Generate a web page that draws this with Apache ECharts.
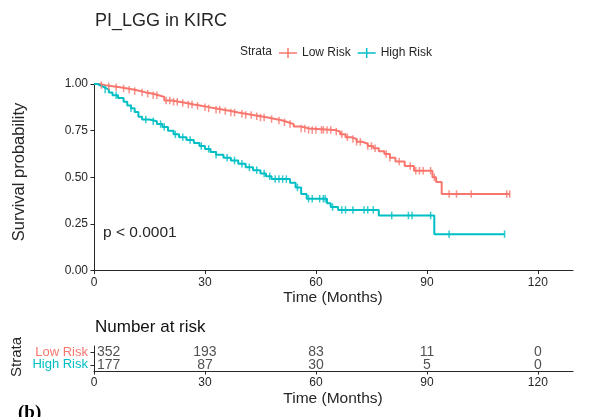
<!DOCTYPE html>
<html>
<head>
<meta charset="utf-8">
<script src="https://cdn.jsdelivr.net/npm/echarts@6/dist/echarts.min.js"></script>
<style>
  html, body { margin: 0; padding: 0; background: #fff; }
  #chart { width: 597px; height: 417px; }
</style>
</head>
<body>
<div id="chart"></div>
<script>
// Kaplan–Meier curves, PI_LGG strata in KIRC
const strata = ['Low Risk', 'High Risk'];
const timeTicks = [0, 30, 60, 90, 120];
const survTicks = [0, 0.25, 0.5, 0.75, 1];

// [time in months, survival after the drop]
const lowRiskSteps = [
  [0, 1], [1.5, 0.994], [3, 0.988], [5, 0.982], [7, 0.976], [9, 0.969], [11, 0.962],
  [12.5, 0.955], [14, 0.948], [16, 0.94], [17.5, 0.93], [19, 0.912], [21, 0.905],
  [23, 0.898], [25, 0.89], [27, 0.883], [29, 0.876], [31, 0.869], [33, 0.862],
  [35, 0.855], [37, 0.847], [39, 0.84], [41, 0.834], [43, 0.827], [45, 0.82],
  [47, 0.812], [49, 0.804], [51, 0.795], [52.5, 0.785], [54, 0.772], [56, 0.762],
  [58, 0.754], [65, 0.745], [66.5, 0.73], [68, 0.715], [69.5, 0.705], [71, 0.69],
  [72.5, 0.68], [74, 0.668], [75.5, 0.655], [77, 0.64], [78.5, 0.625], [80, 0.605],
  [81.5, 0.585], [84, 0.56], [86.5, 0.535], [91.5, 0.5], [92.5, 0.475], [94, 0.41]
];
const highRiskSteps = [
  [0, 1], [1, 0.99], [2, 0.98], [3, 0.97], [4, 0.955], [5, 0.94], [6.5, 0.925],
  [8, 0.905], [9, 0.885], [10, 0.87], [11, 0.85], [12, 0.825], [13, 0.81], [15, 0.8],
  [17, 0.785], [18.5, 0.77], [20, 0.75], [21.5, 0.73], [23, 0.715], [25, 0.7],
  [27, 0.683], [28.5, 0.668], [30, 0.652], [31.5, 0.635], [33, 0.62], [35, 0.605],
  [37, 0.59], [39, 0.572], [41, 0.553], [43, 0.538], [45, 0.52], [46.5, 0.505],
  [48, 0.49], [53, 0.47], [54.5, 0.445], [56, 0.41], [57.5, 0.385], [63, 0.36],
  [64, 0.34], [66, 0.325], [77, 0.295], [92, 0.195]
];

// censoring times (months)
const lowRiskCensor = [
  2, 4, 6, 8, 9.5, 11, 13, 14.5, 16, 17, 19.5, 20.5, 21.5, 22.5, 24, 25.5, 26.5, 28,
  30, 31, 33, 34, 35.5, 37, 38, 40, 41, 42.5, 44, 45, 46, 48, 50, 51.5, 53, 56, 57,
  58, 59, 60, 61.5, 62, 63, 64, 65.5, 67, 68.5, 70, 71, 72, 74, 75, 76, 79, 80, 82.5,
  85.5, 87, 88, 89, 91, 92, 96, 98, 102, 111.6, 112.4
];
const highRiskCensor = [
  3, 6, 10, 14, 16, 18, 19, 22, 24, 26, 29, 31, 33, 36, 38, 40, 42, 44, 46, 47.5,
  49, 50, 51, 52, 55, 58, 59, 61, 62, 62.5, 64.5, 67, 68, 70, 73, 74, 75.5, 80.5,
  85, 86, 91, 96, 111
];

// number at risk at each time tick
const atRiskLow = [352, 193, 83, 11, 0];
const atRiskHigh = [177, 87, 30, 5, 0];

const colors = { 'Low Risk': '#F8766D', 'High Risk': '#00BFC4' };
const ink = '#262626';
const font = 'Liberation Sans, Arial';

function survivalAt(steps, t) {
  let s = steps[0][1];
  for (const [time, value] of steps) {
    if (time <= t) s = value; else break;
  }
  return s;
}
function curve(steps, censor) {
  const end = censor[censor.length - 1];
  return steps.concat([[end, survivalAt(steps, end)]]);
}
function marks(steps, censor) {
  return censor.map(t => [t, survivalAt(steps, t)]);
}

const xMax = 129.5;
const legendIcon = 'path://M0,4.25 L18,4.25 L18,5.75 L0,5.75 Z M8.25,0 L9.75,0 L9.75,10 L8.25,10 Z';

function timeAxis(gridIndex) {
  return {
    gridIndex, type: 'value', min: 0, max: xMax, position: 'bottom',
    axisLine: { show: true, onZero: false, lineStyle: { color: ink, width: 1 } },
    axisTick: { show: true, length: 3.5, customValues: timeTicks, lineStyle: { color: ink } },
    axisLabel: { customValues: timeTicks, fontSize: 12, color: ink, margin: 6, fontFamily: font },
    splitLine: { show: false }
  };
}

const option = {
  animation: false,
  backgroundColor: '#fff',
  textStyle: { fontFamily: font },
  legend: {
    left: 279, top: 47, padding: 0, itemWidth: 18, itemHeight: 10, itemGap: 7,
    textStyle: { fontSize: 12, color: ink },
    data: strata.map(n => ({ name: n, icon: legendIcon, itemStyle: { color: colors[n] } }))
  },
  grid: [
    { left: 94, top: 84, width: 479, height: 186.5 },
    { left: 94, top: 346, width: 479, height: 25 }
  ],
  xAxis: [timeAxis(0), timeAxis(1)],
  yAxis: [
    {
      gridIndex: 0, type: 'value', min: 0, max: 1, interval: 0.25,
      axisLine: { show: true, lineStyle: { color: ink, width: 1 } },
      axisTick: { show: true, length: 3.5, lineStyle: { color: ink } },
      axisLabel: { fontSize: 12, color: ink, margin: 6, formatter: v => v.toFixed(2) },
      splitLine: { show: false }
    },
    {
      gridIndex: 1, type: 'category', data: strata, inverse: true,
      axisLine: { show: true, lineStyle: { color: ink, width: 1 } },
      axisTick: { show: true, length: 3.5, alignWithLabel: true, interval: 0, lineStyle: { color: ink } },
      axisLabel: { fontSize: 13, margin: 6, interval: 0, hideOverlap: false, color: v => colors[v] },
      splitLine: { show: false }
    }
  ],
  series: [
    ...strata.map(name => {
      const steps = name === 'Low Risk' ? lowRiskSteps : highRiskSteps;
      const censor = name === 'Low Risk' ? lowRiskCensor : highRiskCensor;
      return {
        name, type: 'line', step: 'end', xAxisIndex: 0, yAxisIndex: 0,
        showSymbol: false, color: colors[name],
        lineStyle: { width: 2, color: colors[name] },
        data: curve(steps, censor), z: 2
      };
    }),
    ...strata.map(name => {
      const steps = name === 'Low Risk' ? lowRiskSteps : highRiskSteps;
      const censor = name === 'Low Risk' ? lowRiskCensor : highRiskCensor;
      return {
        name, type: 'scatter', xAxisIndex: 0, yAxisIndex: 0,
        symbol: 'rect', symbolSize: [1.5, 7.5], color: colors[name],
        itemStyle: { color: colors[name] },
        data: marks(steps, censor), z: 3
      };
    }),
    ...strata.map(name => {
      const counts = name === 'Low Risk' ? atRiskLow : atRiskHigh;
      return {
        type: 'scatter', xAxisIndex: 1, yAxisIndex: 1, symbolSize: 0,
        silent: true,
        label: {
          show: true, position: 'inside', fontSize: 14, color: ink,
          formatter: p => String(p.value[2])
        },
        data: timeTicks.map((t, i) => {
          const item = { value: [t, name, counts[i]] };
          if (t === 0) item.label = { align: 'left', offset: [3, 0] };
          return item;
        })
      };
    })
  ],
  graphic: [
    { type: 'text', left: 95, top: 12, style: { text: 'PI_LGG in KIRC', fontSize: 18, fill: ink, fontFamily: font } },
    { type: 'text', x: 240, y: 52, style: { text: 'Strata', fontSize: 12, fill: ink, verticalAlign: 'middle', fontFamily: font } },
    { type: 'text', x: 19, y: 172, rotation: Math.PI / 2, style: { text: 'Survival probability', fontSize: 16.5, fill: ink, align: 'center', verticalAlign: 'middle', fontFamily: font } },
    { type: 'text', x: 333, y: 298, style: { text: 'Time (Months)', fontSize: 15.5, fill: ink, align: 'center', verticalAlign: 'middle', fontFamily: font } },
    { type: 'text', x: 103, y: 233, style: { text: 'p < 0.0001', fontSize: 15.5, fill: ink, verticalAlign: 'middle', fontFamily: font } },
    { type: 'text', x: 95, y: 327, style: { text: 'Number at risk', fontSize: 17, fill: '#111', verticalAlign: 'middle', fontFamily: font } },
    { type: 'text', x: 17, y: 357, rotation: Math.PI / 2, style: { text: 'Strata', fontSize: 15, fill: ink, align: 'center', verticalAlign: 'middle', fontFamily: font } },
    { type: 'text', x: 333, y: 399, style: { text: 'Time (Months)', fontSize: 15.5, fill: ink, align: 'center', verticalAlign: 'middle', fontFamily: font } },
    { type: 'text', x: 18, y: 413, style: { text: '(b)', fontSize: 19, fontWeight: 'bold', fill: '#000', verticalAlign: 'middle', fontFamily: 'Liberation Serif, Times New Roman' } }
  ]
};

const chart = echarts.init(document.getElementById('chart'), null, { renderer: 'canvas' });
chart.setOption(option);
</script>
</body>
</html>
